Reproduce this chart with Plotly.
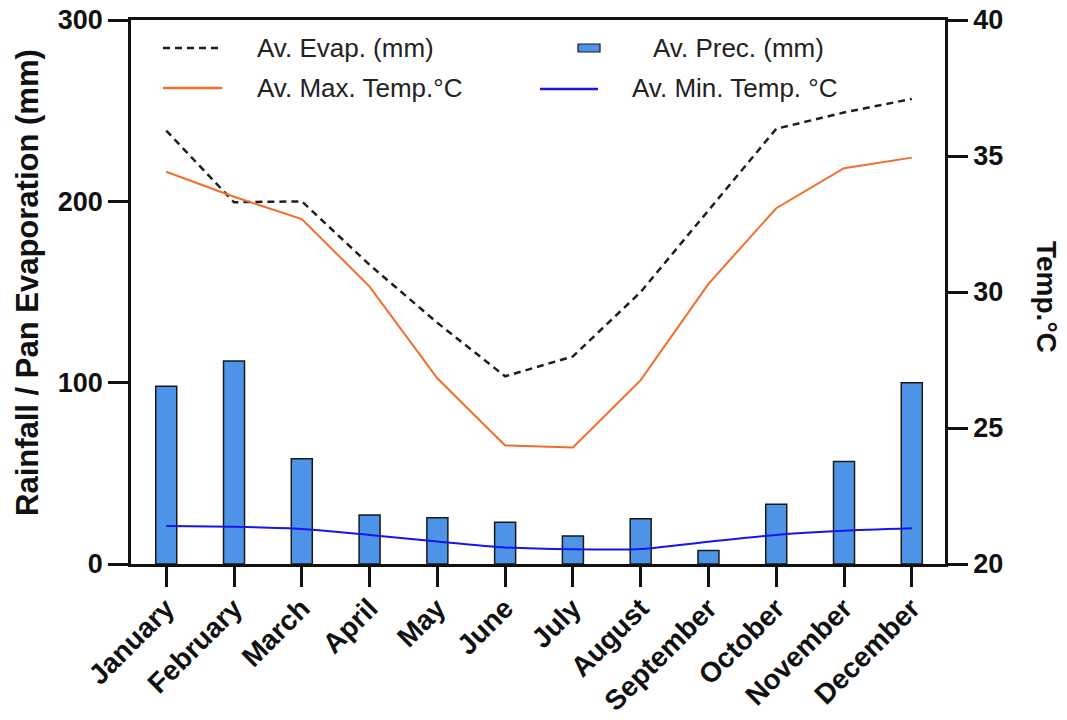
import plotly.graph_objects as go

# Monthly climate normals
months = ["January", "February", "March", "April", "May", "June",
          "July", "August", "September", "October", "November", "December"]
precip_mm = [98, 112, 58, 27, 25.5, 23, 15.5, 25, 7.5, 33, 56.5, 100]
evap_mm = [239, 199.5, 200, 165, 133, 103.5, 114.5, 150, 195, 240, 249, 256.5]
max_temp_c = [34.42, 33.5, 32.68, 30.2, 26.83, 24.36, 24.28, 26.76, 30.3, 33.08, 34.55, 34.94]
min_temp_c = [21.4, 21.37, 21.29, 21.07, 20.83, 20.61, 20.54, 20.55, 20.82, 21.07, 21.22, 21.31]

FONT = "Liberation Sans, Arial, sans-serif"
INK = "#111111"
EVAP_COLOR = "#1e1e1e"
BAR_COLOR = "#4d94e8"
MAX_COLOR = "#f26d2b"
MIN_COLOR = "#1515f0"

W, H = 1067, 720
ML, MR, MT, MB = 131, 122, 20, 156
PW, PH = W - ML - MR, H - MT - MB


def px(xp):
    return (xp - ML) / PW


def py(yp):
    return (H - MB - yp) / PH


fig = go.Figure()

fig.add_trace(go.Scatter(
    x=months, y=evap_mm, name="Av. Evap. (mm)", mode="lines",
    line=dict(color=EVAP_COLOR, width=2.5, dash="7px,5px"), yaxis="y"))

fig.add_trace(go.Bar(
    x=months, y=precip_mm, name="Av. Prec. (mm)", width=0.31,
    marker=dict(color=BAR_COLOR, line=dict(color="#1a1a1a", width=1.5)),
    yaxis="y"))

fig.add_trace(go.Scatter(
    x=months, y=max_temp_c, name="Av. Max. Temp.°C", mode="lines",
    line=dict(color=MAX_COLOR, width=2), yaxis="y2"))

fig.add_trace(go.Scatter(
    x=months, y=min_temp_c, name="Av. Min. Temp. °C", mode="lines",
    line=dict(color=MIN_COLOR, width=2, shape="spline", smoothing=0.6),
    yaxis="y2"))

# Two-column key drawn in paper space
legend_font = dict(family=FONT, size=26, color="#222222")
shapes = [
    dict(type="line", xref="paper", yref="paper",
         x0=px(163), x1=px(222), y0=py(48), y1=py(48),
         line=dict(color=EVAP_COLOR, width=2.5, dash="7px,5px")),
    dict(type="rect", xref="paper", yref="paper",
         x0=px(578), x1=px(600), y0=py(44), y1=py(52),
         fillcolor=BAR_COLOR, line=dict(color="#1a1a1a", width=1.2)),
    dict(type="line", xref="paper", yref="paper",
         x0=px(163), x1=px(222), y0=py(88), y1=py(88),
         line=dict(color=MAX_COLOR, width=2.5)),
    dict(type="line", xref="paper", yref="paper",
         x0=px(540), x1=px(598), y0=py(89), y1=py(89),
         line=dict(color=MIN_COLOR, width=2.5)),
]
key_labels = [
    ("Av. Evap. (mm)", 255, 48),
    ("Av. Prec. (mm)", 651, 48),
    ("Av. Max. Temp.°C", 255, 88),
    ("Av. Min. Temp. °C", 630, 88),
]
annotations = [
    dict(text=t, xref="paper", yref="paper", x=px(xl), y=py(yl),
         xanchor="left", yanchor="middle", showarrow=False, font=legend_font)
    for t, xl, yl in key_labels
]
annotations += [
    dict(text="<b>Rainfall / Pan Evaporation (mm)</b>", xref="paper",
         yref="paper", x=px(27), y=py(283), textangle=-90, showarrow=False,
         xanchor="center", yanchor="middle",
         font=dict(family=FONT, size=31, color=INK)),
    dict(text="<b>Temp.°C</b>", xref="paper", yref="paper",
         x=px(1047), y=py(297), textangle=90, showarrow=False,
         xanchor="center", yanchor="middle",
         font=dict(family=FONT, size=28, color=INK)),
]

tick_font = dict(family=FONT, size=27, color=INK, weight="bold")
common_axis = dict(showline=True, linecolor=INK, linewidth=2.5,
                   ticks="outside", ticklen=20, tickwidth=2.5, tickcolor=INK,
                   showgrid=False, zeroline=False, automargin=False)

fig.update_layout(
    width=W, height=H,
    margin=dict(l=ML, r=MR, t=MT, b=MB),
    paper_bgcolor="white", plot_bgcolor="white",
    font=dict(family=FONT, color=INK),
    showlegend=False,
    xaxis=dict(type="category", range=[-0.52, 11.49], mirror=True,
               tickangle=-45, ticklabelstandoff=-6,
               tickfont=dict(family=FONT, size=28, color=INK, weight="bold"),
               **common_axis),
    yaxis=dict(range=[0, 300], tickvals=[0, 100, 200, 300],
               tickfont=tick_font, **common_axis),
    yaxis2=dict(range=[20, 40], tickvals=[20, 25, 30, 35, 40],
                overlaying="y", side="right", tickfont=tick_font,
                **common_axis),
    shapes=shapes,
    annotations=annotations,
)

fig.write_html("out.html")
